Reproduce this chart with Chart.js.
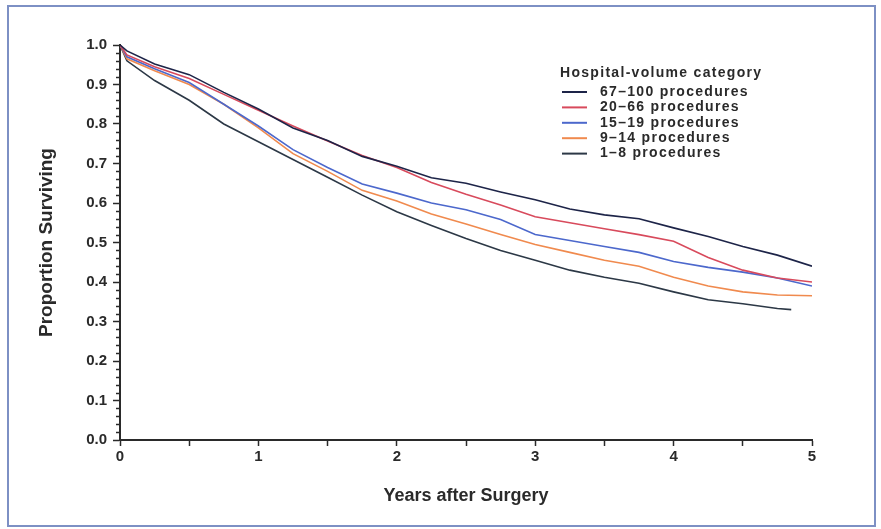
<!DOCTYPE html>
<html>
<head>
<meta charset="utf-8">
<script src="https://cdn.jsdelivr.net/npm/chart.js@4.4.1/dist/chart.umd.min.js"></script>
<style>
  html, body { margin: 0; padding: 0; background: #fff; }
  #wrap { position: relative; width: 881px; height: 529px; }
  #frame { position: absolute; left: 7px; top: 5px; width: 865px; height: 518px; border: 2px solid #7d90c4; pointer-events: none; }
  canvas { position: absolute; left: 0; top: 0; }
</style>
</head>
<body>
<div id="wrap">
  <canvas id="survival" width="881" height="529"></canvas>
  <div id="frame"></div>
</div>
<script>
// Kaplan-Meier style survival by hospital volume
const years = [0, 0.05, 0.25, 0.5, 0.75, 1, 1.25, 1.5, 1.75, 2, 2.25, 2.5, 2.75, 3, 3.25, 3.5, 3.75, 4, 4.25, 4.5, 4.75, 5];
const years1to8 = [0, 0.05, 0.25, 0.5, 0.75, 1, 1.25, 1.5, 1.75, 2, 2.25, 2.5, 2.75, 3, 3.25, 3.5, 3.75, 4, 4.25, 4.5, 4.75, 4.85];

const vol67to100 = [1.0, 0.985, 0.952, 0.925, 0.88, 0.838, 0.79, 0.758, 0.718, 0.693, 0.664, 0.65, 0.628, 0.608, 0.585, 0.57, 0.56, 0.537, 0.515, 0.49, 0.468, 0.44];
const vol20to66  = [1.0, 0.975, 0.945, 0.915, 0.875, 0.835, 0.795, 0.757, 0.72, 0.69, 0.652, 0.622, 0.595, 0.565, 0.55, 0.535, 0.52, 0.503, 0.462, 0.43, 0.41, 0.40];
const vol15to19  = [1.0, 0.97, 0.94, 0.905, 0.85, 0.795, 0.735, 0.69, 0.648, 0.625, 0.60, 0.583, 0.558, 0.52, 0.505, 0.49, 0.475, 0.452, 0.437, 0.425, 0.41, 0.39];
const vol9to14   = [1.0, 0.965, 0.935, 0.90, 0.85, 0.79, 0.725, 0.68, 0.632, 0.605, 0.572, 0.547, 0.52, 0.495, 0.475, 0.455, 0.44, 0.412, 0.39, 0.375, 0.367, 0.365];
const vol1to8    = [1.0, 0.96, 0.91, 0.86, 0.80, 0.755, 0.71, 0.665, 0.62, 0.578, 0.543, 0.51, 0.48, 0.455, 0.43, 0.412, 0.397, 0.375, 0.355, 0.345, 0.333, 0.33];

const seriesLabels = ['67\u2013100 procedures', '20\u201366 procedures', '15\u201319 procedures', '9\u201314 procedures', '1\u20138 procedures'];
const legendTitle = 'Hospital-volume category';
const yTitle = 'Proportion Surviving';
const xTitle = 'Years after Surgery';

const FONT = '"Liberation Sans", Arial, Helvetica, sans-serif';
const INK = '#2a2a2a';

const pts = (xs, ys) => xs.map((x, i) => ({ x, y: ys[i] }));

const seriesColors = ['#1d2448', '#d84a5c', '#4c68cc', '#f08a4e', '#2c3846'];
const seriesData = [
  pts(years, vol67to100),
  pts(years, vol20to66),
  pts(years, vol15to19),
  pts(years, vol9to14),
  pts(years1to8, vol1to8),
];

// ── minor ticks on the y axis + custom legend ────────────────────────────────
const extras = {
  id: 'extras',
  afterDraw(chart) {
    const { ctx, scales: { x, y } } = chart;
    ctx.save();
    ctx.strokeStyle = INK;
    ctx.lineWidth = 1.5;
    for (let i = 0; i <= 50; i++) {
      if (i % 5 === 0) continue;
      const py = Math.round(y.getPixelForValue(i / 50)) + 0.5;
      const px = x.getPixelForValue(0);
      ctx.beginPath(); ctx.moveTo(px - 4, py); ctx.lineTo(px + 1, py); ctx.stroke();
    }

    ctx.font = 'bold 14px ' + FONT;
    if ('letterSpacing' in ctx) ctx.letterSpacing = '1.3px';
    ctx.fillStyle = INK;
    ctx.textBaseline = 'middle';
    ctx.fillText(legendTitle, 560, 73);
    chart.data.datasets.forEach((ds, i) => {
      const ly = 92 + i * 15.4;
      ctx.strokeStyle = ds.borderColor;
      ctx.lineWidth = 2;
      ctx.beginPath(); ctx.moveTo(562, ly); ctx.lineTo(587, ly); ctx.stroke();
      ctx.fillText(ds.label, 600, ly);
    });
    ctx.restore();
  }
};

new Chart(document.getElementById('survival'), {
  type: 'line',
  data: {
    datasets: seriesLabels.map((label, i) => ({
      label,
      data: seriesData[i],
      borderColor: seriesColors[i],
      borderWidth: 1.6,
      pointRadius: 0,
      tension: 0,
      fill: false,
    }))
  },
  options: {
    responsive: false,
    animation: false,
    layout: { padding: { top: 45, right: 69, bottom: 0, left: 0 } },
    plugins: { legend: { display: false }, tooltip: { enabled: false } },
    scales: {
      x: {
        type: 'linear', min: 0, max: 5,
        afterFit: s => { s.height = 89; },
        border: { display: true, color: INK, width: 2 },
        grid: { drawOnChartArea: false, drawTicks: true, tickLength: 6, color: INK, tickWidth: 1.5 },
        ticks: {
          stepSize: 0.5, padding: 2, color: INK, font: { family: FONT, size: 15, weight: 'bold' },
          callback: v => Number.isInteger(v) ? String(v) : ''
        },
        title: { display: true, text: xTitle, color: INK, font: { family: FONT, size: 18, weight: 'bold' }, padding: { top: 0, bottom: 22 } }
      },
      y: {
        type: 'linear', min: 0, max: 1,
        afterFit: s => { s.width = 120; },
        border: { display: true, color: INK, width: 2 },
        grid: { drawOnChartArea: false, drawTicks: true, tickLength: 7, color: INK, tickWidth: 1.5 },
        ticks: {
          stepSize: 0.1, padding: 6, color: INK, font: { family: FONT, size: 15, weight: 'bold' },
          callback: v => v.toFixed(1)
        },
        title: { display: true, text: yTitle, color: INK, font: { family: FONT, size: 19, weight: 'bold' }, padding: { top: 35, bottom: 0 } }
      }
    }
  },
  plugins: [extras]
});
</script>
</body>
</html>
